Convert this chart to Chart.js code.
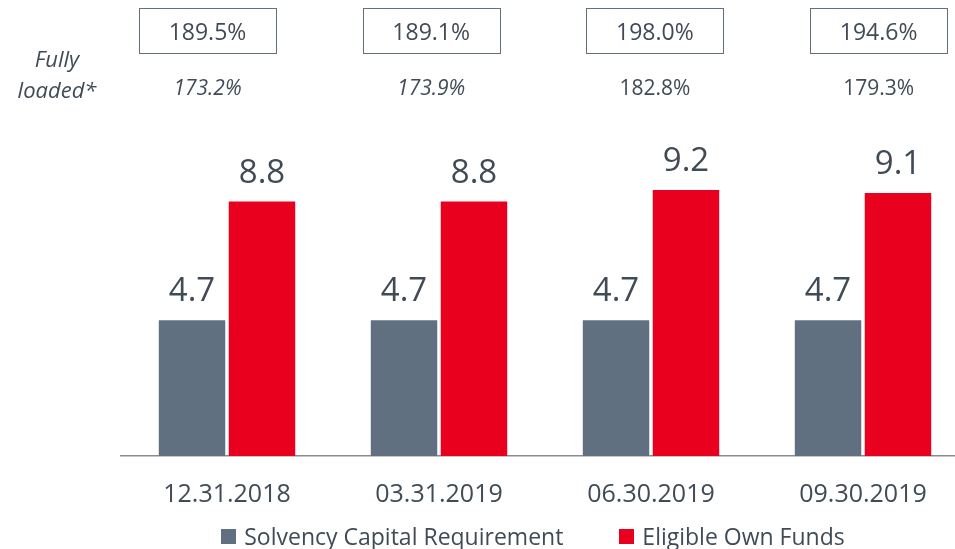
<!DOCTYPE html>
<html>
<head>
<meta charset="utf-8">
<script src="https://cdn.jsdelivr.net/npm/chart.js@4.4.1/dist/chart.umd.min.js"></script>
<style>
  html, body { margin: 0; padding: 0; overflow: hidden; background: #fff; }
  #wrap { position: relative; width: 955px; height: 549px; overflow: hidden; }
  #chart { position: absolute; left: 0; top: 0; }
  #legend { position: absolute; left: 0; top: 520px; width: 1066px; display: flex; justify-content: center; gap: 56px;
            font-family: "Open Sans", sans-serif; font-size: 23px; color: #404b56; }
  #legend span.item { display: flex; align-items: center; }
  #legend span.box { width: 15px; height: 15px; margin-right: 8px; display: inline-block; }
</style>
</head>
<body>
<div id="wrap">
  <canvas id="chart" width="975" height="549"></canvas>
  <div id="legend"></div>
</div>
<script>
const categories = ['12.31.2018', '03.31.2019', '06.30.2019', '09.30.2019'];
const scrValues = [4.7, 4.7, 4.7, 4.7];
const ownFundsValues = [8.8, 8.8, 9.2, 9.1];
const solvencyRatios = ['189.5%', '189.1%', '198.0%', '194.6%'];
const fullyLoadedRatios = ['173.2%', '173.9%', '182.8%', '179.3%'];
const fullyLoadedItalic = [true, true, false, false];

const textColor = '#404b56';
const greyBar = '#607080';
const redBar = '#e9001f';
const font = '"Open Sans", sans-serif';

// html legend, same idea as the legend plugin in the dashboard
const htmlLegendPlugin = {
  id: 'htmlLegend',
  afterUpdate(chart) {
    const el = document.getElementById('legend');
    el.innerHTML = '';
    chart.data.datasets.forEach(ds => {
      const item = document.createElement('span');
      item.className = 'item';
      const box = document.createElement('span');
      box.className = 'box';
      box.style.background = ds.backgroundColor;
      item.appendChild(box);
      item.appendChild(document.createTextNode(ds.label));
      el.appendChild(item);
    });
  }
};

const valueLabels = {
  id: 'valueLabels',
  afterDatasetsDraw(chart) {
    const ctx = chart.ctx;
    ctx.save();
    ctx.fillStyle = textColor;
    ctx.font = '33px ' + font;
    ctx.textAlign = 'center';
    ctx.textBaseline = 'alphabetic';
    chart.data.datasets.forEach((ds, i) => {
      chart.getDatasetMeta(i).data.forEach((bar, j) => {
        ctx.fillText(ds.data[j].toFixed(1), bar.x, bar.y - 19);
      });
    });
    ctx.restore();
  }
};

const ratioHeader = {
  id: 'ratioHeader',
  afterDraw(chart) {
    const ctx = chart.ctx;
    ctx.save();
    ctx.fillStyle = textColor;
    ctx.textAlign = 'center';
    ctx.textBaseline = 'alphabetic';

    ctx.font = 'italic 22px ' + font;
    ctx.fillText('Fully', 57, 67);
    ctx.fillText('loaded*', 57, 98);

    for (let i = 0; i < solvencyRatios.length; i++) {
      const cx = 207.5 + i * 223.7;
      ctx.strokeStyle = '#5f6f7e';
      ctx.lineWidth = 1;
      ctx.strokeRect(Math.round(cx - 68.5) + 0.5, 8.5, 137, 45);
      ctx.font = '23px ' + font;
      ctx.fillText(solvencyRatios[i], cx, 40);
      ctx.font = (fullyLoadedItalic[i] ? 'italic ' : '') + '21px ' + font;
      ctx.fillText(fullyLoadedRatios[i], cx, 95);
    }
    ctx.restore();
  }
};

const ctx = document.getElementById('chart').getContext('2d');
const chart = new Chart(ctx, {
  type: 'bar',
  data: {
    labels: categories,
    datasets: [
      { label: 'Solvency Capital Requirement', data: scrValues, backgroundColor: greyBar },
      { label: 'Eligible Own Funds', data: ownFundsValues, backgroundColor: redBar }
    ]
  },
  options: {
    responsive: false,
    animation: false,
    layout: { padding: { left: 121, right: 6, top: 138, bottom: 15 } },
    datasets: { bar: { categoryPercentage: 0.66, barPercentage: 0.95 } },
    plugins: {
      legend: { display: false },
      tooltip: { enabled: false }
    },
    scales: {
      x: {
        grid: { display: false, drawTicks: false },
        border: { display: true, color: '#8c8c8c', width: 1.5 },
        ticks: { color: textColor, font: { family: font, size: 25 }, padding: 24 }
      },
      y: { display: false, min: 0, max: 11 }
    }
  },
  plugins: [htmlLegendPlugin, valueLabels, ratioHeader]
});
</script>
</body>
</html>
